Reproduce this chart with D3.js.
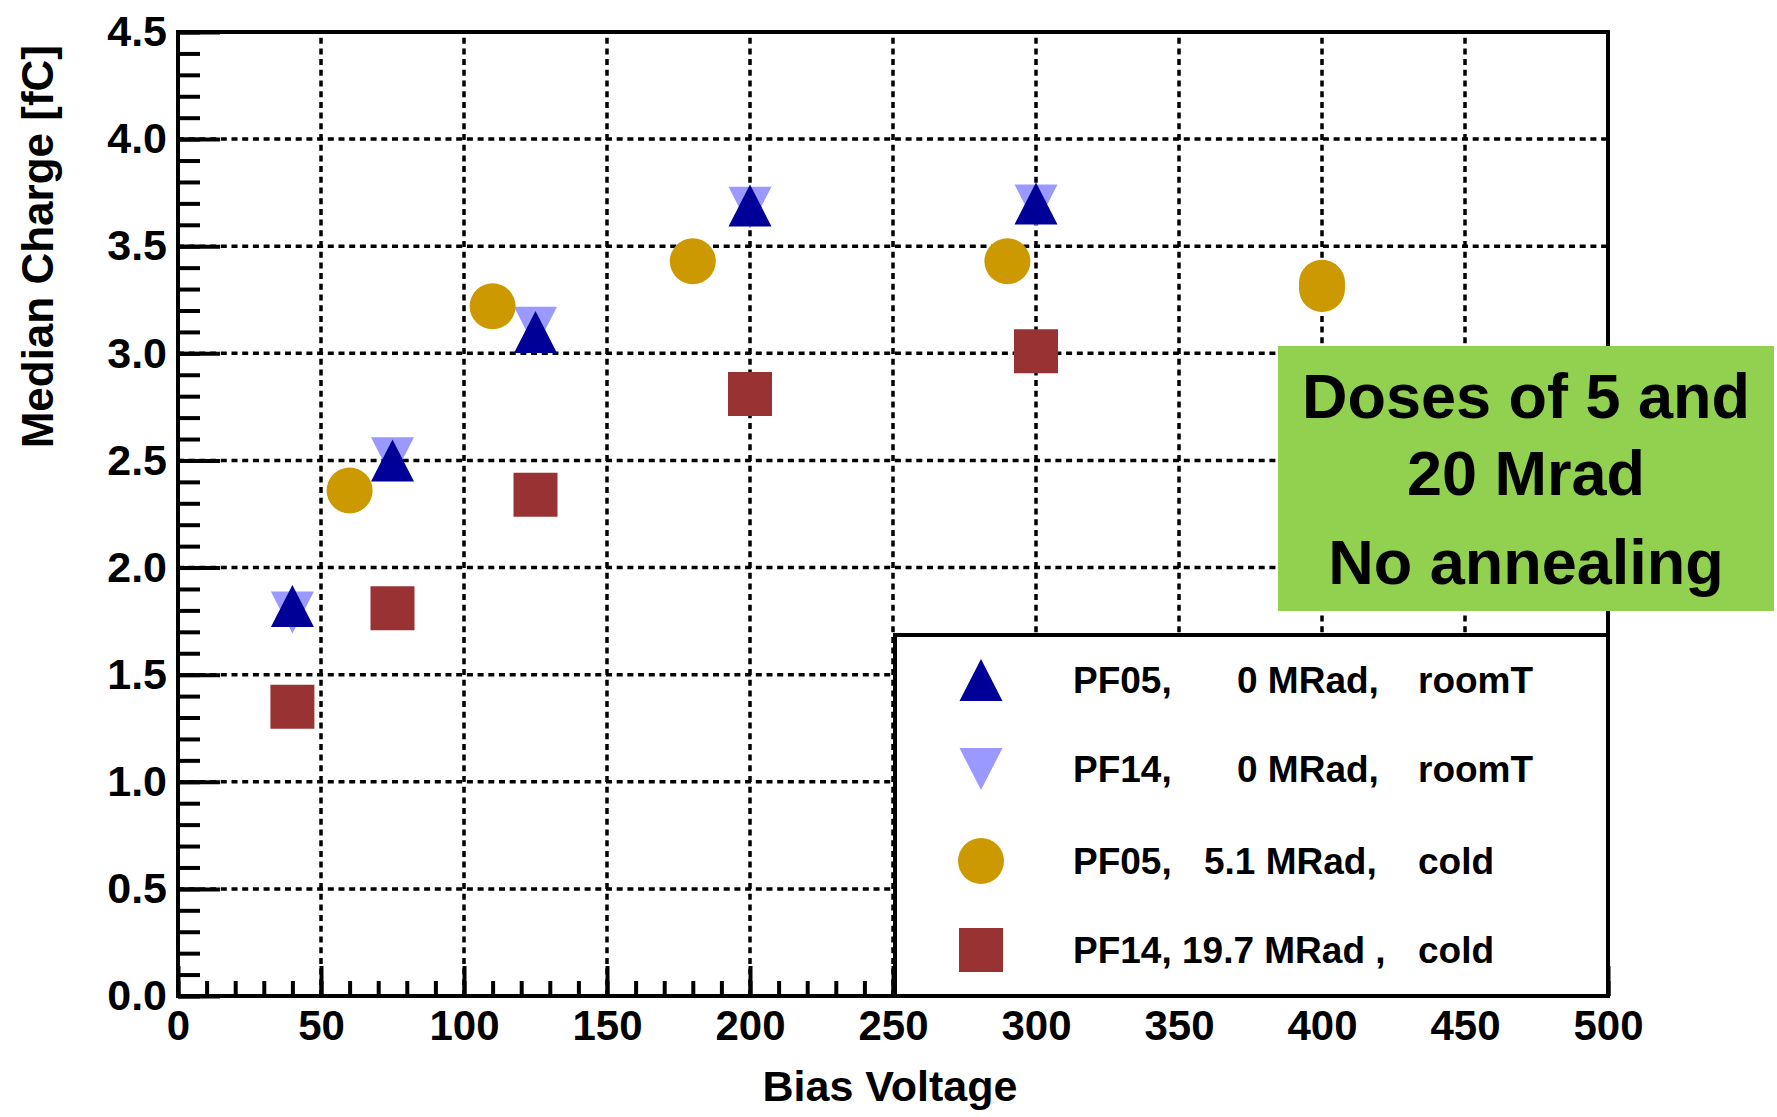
<!DOCTYPE html>
<html>
<head>
<meta charset="utf-8">
<script src="https://cdn.jsdelivr.net/npm/d3@7"></script>
<style>
  html, body { margin: 0; padding: 0; background: #fff; }
  svg { display: block; }
  text { font-family: "Liberation Sans", Arial, Helvetica, sans-serif; font-weight: bold; fill: #000; }
</style>
</head>
<body>
<svg id="chart" width="1777" height="1117"></svg>
<script>
// Median collected charge versus bias voltage for two sensors
const pf05RoomV = [40, 75, 125, 200, 300];
const pf05RoomQ = [1.82, 2.50, 3.10, 3.69, 3.70];

const pf14RoomV = [40, 75, 125, 200, 300];
const pf14RoomQ = [1.79, 2.51, 3.12, 3.68, 3.69];

const pf05ColdV = [60, 110, 180, 290, 400, 400];
const pf05ColdQ = [2.36, 3.22, 3.43, 3.43, 3.33, 3.30];

const pf14ColdV = [40, 75, 125, 200, 300];
const pf14ColdQ = [1.35, 1.81, 2.34, 2.81, 3.01];

const xTicks = [0, 50, 100, 150, 200, 250, 300, 350, 400, 450, 500];
const yTicks = [0.0, 0.5, 1.0, 1.5, 2.0, 2.5, 3.0, 3.5, 4.0, 4.5];

const legendLabels = [
  ["PF05,", "0 MRad,", "roomT"],
  ["PF14,", "0 MRad,", "roomT"],
  ["PF05,", "5.1 MRad,", "cold"],
  ["PF14, 19.7 MRad ,", "", "cold"]
];
const noteLines = ["Doses of 5 and", "20 Mrad", "No annealing"];

// ---- layout ----
const svg = d3.select("#chart");
const x = d3.scaleLinear().domain([0, 500]).range([178, 1608]);
const y = d3.scaleLinear().domain([0, 4.5]).range([996, 32]);
const [x0, x1] = x.range();
const [y0, y1] = y.range();

// dotted grid
const grid = svg.append("g")
  .attr("stroke", "#000").attr("stroke-width", 3.5).attr("stroke-dasharray", "6,4.7");
grid.selectAll("line.v").data(xTicks.slice(1, -1)).join("line")
  .attr("x1", d => x(d)).attr("x2", d => x(d)).attr("y1", y0).attr("y2", y1);
grid.selectAll("line.h").data(yTicks.slice(1, -1)).join("line")
  .attr("x1", x0).attr("x2", x1).attr("y1", d => y(d)).attr("y2", d => y(d));

// minor / major ticks pointing into the frame
const yMinor = d3.range(0, 46).map(i => i / 10);
const xMinor = d3.range(0, 51).map(i => i * 10);

function tickStyle(g) {
  g.select(".domain").remove();
  g.selectAll(".tick line").attr("stroke", "#000").attr("stroke-width", 4);
}

svg.append("g").attr("transform", `translate(${x0},0)`)
  .call(d3.axisRight(y).tickValues(yMinor).tickSize(22).tickFormat(""))
  .call(tickStyle);
svg.append("g").attr("transform", `translate(${x0},0)`)
  .call(d3.axisRight(y).tickValues(yTicks).tickSize(42).tickFormat(""))
  .call(tickStyle);
svg.append("g").attr("transform", `translate(0,${y0})`)
  .call(d3.axisTop(x).tickValues(xMinor).tickSize(15).tickFormat(""))
  .call(tickStyle);
svg.append("g").attr("transform", `translate(0,${y0})`)
  .call(d3.axisTop(x).tickValues(xTicks).tickSize(30).tickFormat(""))
  .call(tickStyle);

// tick labels
const yLab = svg.append("g").attr("transform", `translate(${x0},0)`)
  .call(d3.axisLeft(y).tickValues(yTicks).tickSize(0).tickPadding(11).tickFormat(d3.format(".1f")));
yLab.select(".domain").remove();
yLab.selectAll("text").attr("font-size", 43).attr("font-family", null).attr("fill", "#000");

const xLab = svg.append("g").attr("transform", `translate(0,${y0})`)
  .call(d3.axisBottom(x).tickValues(xTicks).tickSize(0).tickPadding(14).tickFormat(d3.format("d")));
xLab.select(".domain").remove();
xLab.selectAll("text").attr("font-size", 42).attr("font-family", null).attr("fill", "#000");

// axis titles
svg.append("text")
  .attr("x", 890).attr("y", 1101)
  .attr("text-anchor", "middle").attr("font-size", 43)
  .text("Bias Voltage");
svg.append("text")
  .attr("transform", "translate(53,45) rotate(-90)")
  .attr("text-anchor", "end").attr("font-size", 44)
  .text("Median Charge [fC]");

// marker shapes (bounding-box centred)
const TRI_W = 43, TRI_H = 42, SQ = 44, CIRC_R = 23;
function triUp(cx, cy) {
  return `M${cx - TRI_W / 2},${cy + TRI_H / 2}L${cx + TRI_W / 2},${cy + TRI_H / 2}L${cx},${cy - TRI_H / 2}Z`;
}
function triDown(cx, cy) {
  return `M${cx - TRI_W / 2},${cy - TRI_H / 2}L${cx + TRI_W / 2},${cy - TRI_H / 2}L${cx},${cy + TRI_H / 2}Z`;
}
function square(cx, cy) {
  return `M${cx - SQ / 2},${cy - SQ / 2}h${SQ}v${SQ}h${-SQ}Z`;
}
function circle(cx, cy) {
  return `M${cx - CIRC_R},${cy}a${CIRC_R},${CIRC_R} 0 1,0 ${2 * CIRC_R},0a${CIRC_R},${CIRC_R} 0 1,0 ${-2 * CIRC_R},0Z`;
}

const series = [
  { v: pf14RoomV, q: pf14RoomQ, shape: triDown, color: "#9999ff" },
  { v: pf05RoomV, q: pf05RoomQ, shape: triUp, color: "#000099" },
  { v: pf05ColdV, q: pf05ColdQ, shape: circle, color: "#cc9900" },
  { v: pf14ColdV, q: pf14ColdQ, shape: square, color: "#993333" }
];

const marks = svg.append("g");
series.forEach(s => {
  marks.append("g").selectAll("path")
    .data(s.v.map((v, i) => [v, s.q[i]]))
    .join("path")
    .attr("d", d => s.shape(x(d[0]), y(d[1])))
    .attr("fill", s.color);
});

// frame
svg.append("rect")
  .attr("x", x0).attr("y", y1).attr("width", x1 - x0).attr("height", y0 - y1)
  .attr("fill", "none").attr("stroke", "#000").attr("stroke-width", 4);

// legend
const legend = svg.append("g");
legend.append("rect")
  .attr("x", 895).attr("y", 635).attr("width", x1 - 895).attr("height", y0 - 635)
  .attr("fill", "#fff").attr("stroke", "#000").attr("stroke-width", 4);
const legendOrder = [series[1], series[0], series[2], series[3]];
const rowY = [680, 769, 861, 950];
legendOrder.forEach((s, i) => {
  legend.append("path").attr("d", s.shape(981, rowY[i])).attr("fill", s.color);
  const t = legendLabels[i];
  const base = rowY[i] + 13;
  legend.append("text").attr("x", 1073).attr("y", base).attr("font-size", 37).text(t[0]);
  if (t[1]) {
    legend.append("text").attr("x", t[1].startsWith("0") ? 1237 : 1204).attr("y", base)
      .attr("font-size", 37).text(t[1]);
  }
  legend.append("text").attr("x", 1418).attr("y", base).attr("font-size", 37).text(t[2]);
});

// annotation box
const note = svg.append("g");
note.append("rect")
  .attr("x", 1278).attr("y", 346).attr("width", 496).attr("height", 265)
  .attr("fill", "#92d050");
const noteBase = [418, 495, 584];
noteLines.forEach((line, i) => {
  note.append("text")
    .attr("x", 1526).attr("y", noteBase[i])
    .attr("text-anchor", "middle").attr("font-size", 63)
    .text(line);
});
</script>
</body>
</html>
